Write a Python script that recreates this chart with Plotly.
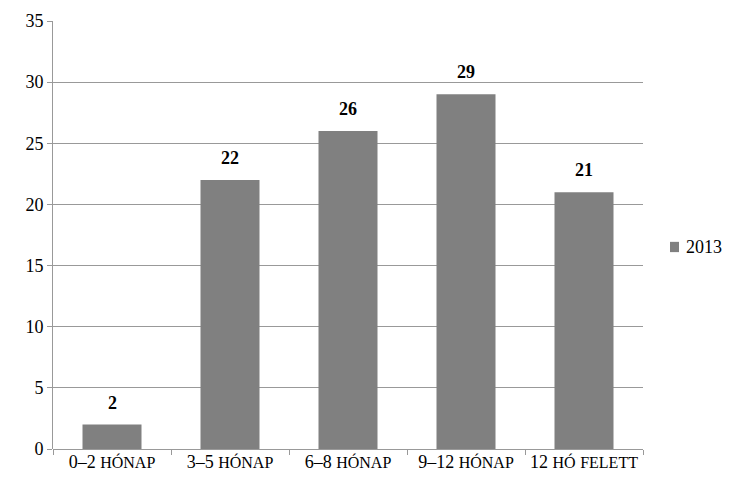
import plotly.graph_objects as go

categories = ["0–2 hónap", "3–5 hónap", "6–8 hónap", "9–12 hónap", "12 hó felett"]
values_2013 = [2, 22, 26, 29, 21]
series_name = "2013"
y_ticks = [0, 5, 10, 15, 20, 25, 30, 35]

FONT = "Liberation Serif, DejaVu Serif, serif"
BAR_COLOR = "#808080"


def small_caps(s, size=16):
    """Render lowercase letters as smaller capitals via span markup."""
    out, buf = [], ""
    for ch in s:
        if ch.islower():
            buf += ch.upper()
        else:
            if buf:
                out.append(f"<span style='font-size:{size}px'>{buf}</span>")
                buf = ""
            out.append(ch)
    if buf:
        out.append(f"<span style='font-size:{size}px'>{buf}</span>")
    return "".join(out)


fig = go.Figure()
fig.add_trace(go.Bar(
    x=categories, y=values_2013, name=series_name,
    marker=dict(color=BAR_COLOR, line=dict(width=0)),
    showlegend=False,
))

for c, v in zip(categories, values_2013):
    fig.add_annotation(
        x=c, y=v, text=f"<b>{v}</b>", showarrow=False,
        yanchor="bottom", yshift=10,
        font=dict(family=FONT, size=18, color="black"),
    )

# legend (drawn manually so that it fits the narrow right margin)
fig.add_shape(type="rect", xref="paper", yref="paper",
              x0=1.0458, x1=1.0610, y0=0.460, y1=0.484,
              fillcolor=BAR_COLOR, line=dict(width=0))
fig.add_annotation(xref="paper", yref="paper", x=1.0695, y=0.472,
                   xanchor="left", yanchor="middle", showarrow=False,
                   text=series_name, font=dict(family=FONT, size=18, color="black"))

fig.update_layout(
    width=722, height=464,
    margin=dict(l=45, r=87, t=13, b=23),
    paper_bgcolor="white", plot_bgcolor="white",
    font=dict(family=FONT, size=18, color="black"),
    bargap=0.5,
    showlegend=False,
    xaxis=dict(
        automargin=False, tickangle=0,
        showline=False, ticks="outside", tickson="boundaries", ticklen=5,
        tickcolor="#999999", showgrid=False,
        tickvals=categories, ticktext=[small_caps(c) for c in categories],
        tickfont=dict(family=FONT, size=18),
    ),
    yaxis=dict(
        automargin=False,
        range=[0, 35], tickvals=y_ticks, showgrid=True, gridcolor="#999999",
        gridwidth=1, showline=True, linecolor="#999999", linewidth=1,
        ticks="outside", ticklen=5, tickcolor="#999999",
        zeroline=True, zerolinecolor="#999999", zerolinewidth=1,
        tickfont=dict(family=FONT, size=18),
    ),
)

fig.write_html("out.html")
